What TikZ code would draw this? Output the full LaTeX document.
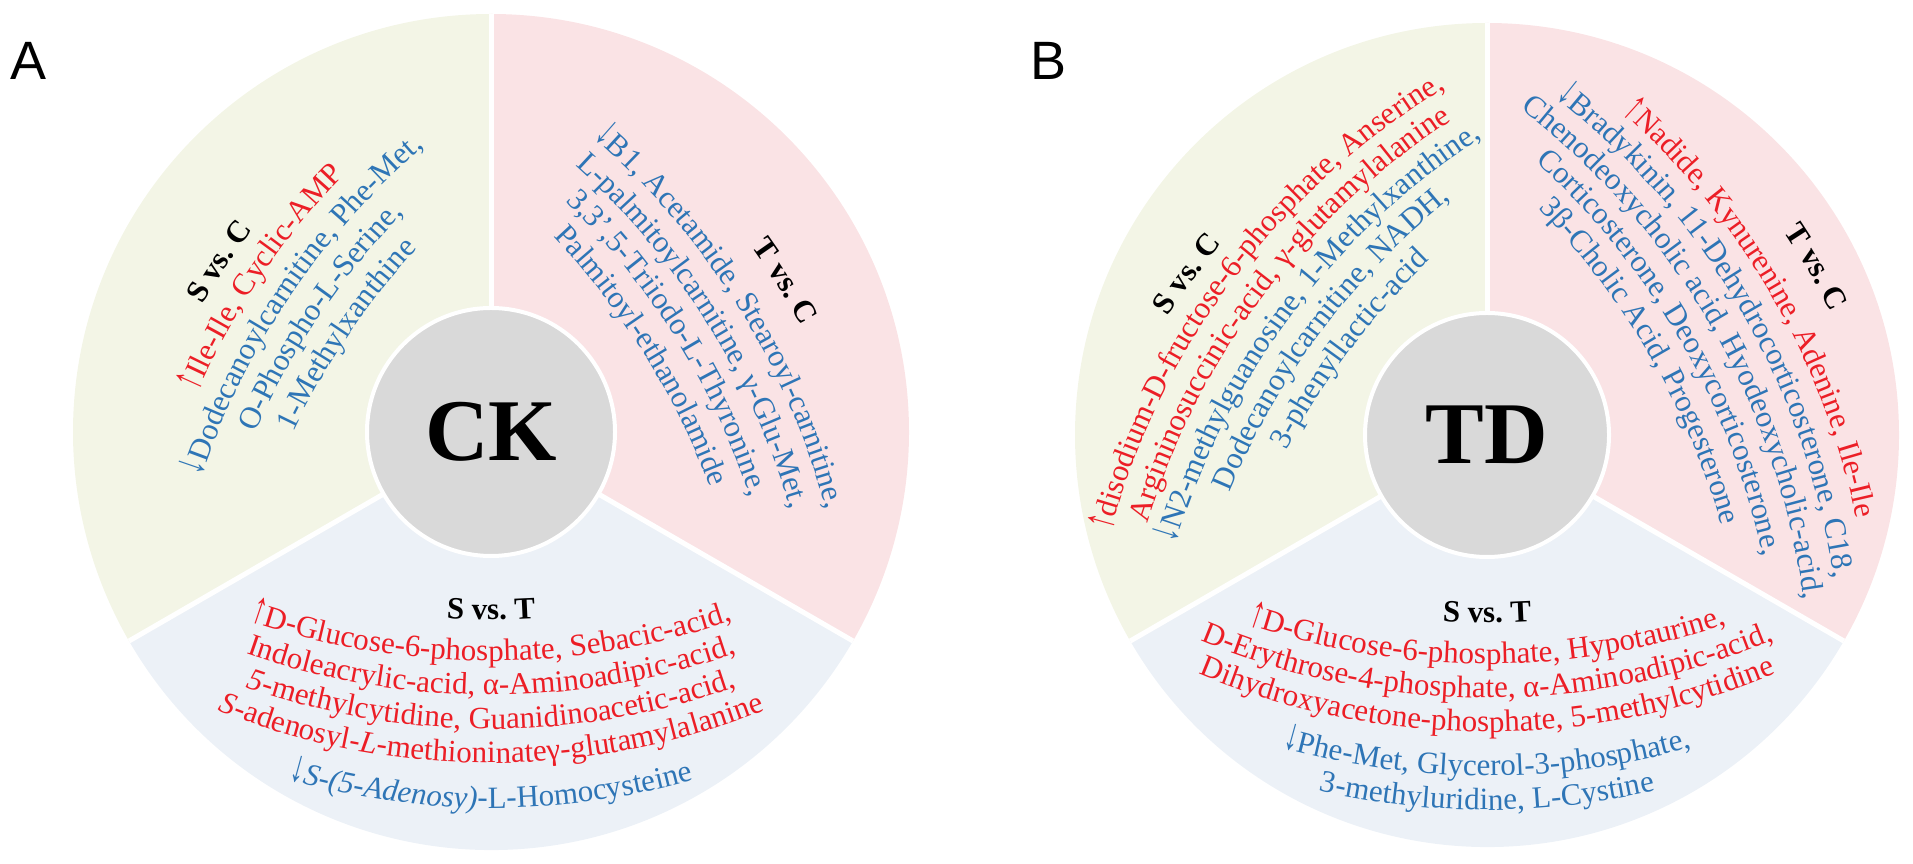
\documentclass[tikz,border=0pt]{standalone}
\usepackage{fontspec}
\setmainfont{Liberation Serif}
\newfontfamily\labfont{Liberation Sans}
\newfontfamily\arrfont[FakeStretch=0.6]{Liberation Serif}
\usetikzlibrary{calc,decorations.text}

\definecolor{secSC}{RGB}{243,245,230}
\definecolor{secTC}{RGB}{250,227,229}
\definecolor{secST}{RGB}{236,241,247}
\definecolor{hubgray}{RGB}{217,217,217}
\definecolor{upred}{RGB}{236,30,38}
\definecolor{downblue}{RGB}{46,117,182}

\newcommand\bodyfont{\fontsize{31}{37}\selectfont}
\newcommand\ttlfmt{\bodyfont\bfseries\color{black}}
\newcommand\upfmt{\bodyfont\color{upred}}
\newcommand\upfmtit{\bodyfont\itshape\color{upred}}
\newcommand\dnfmt{\bodyfont\color{downblue}}
\newcommand\dnfmtit{\bodyfont\itshape\color{downblue}}
\newcommand\uparr{\arrfont\fontsize{46}{46}\selectfont\color{upred}}
\newcommand\dnarr{\arrfont\fontsize{46}{46}\selectfont\color{downblue}}
\newcommand\arcR{740pt}
\newcommand\orient{0}
% #1 centre, #2 angle, #3 distance, #4 signed half arc, #5 format, #6 text
\newcommand\arcline[6]{%
  \pgfmathsetmacro\aS{\orient+(#4)}%
  \pgfmathsetmacro\aE{\orient-(#4)}%
  \pgfmathsetmacro\aB{\orient+180}%
  \path[decorate, decoration={text along path, text align=center,
      text={|#5|#6}}]
    ($(#1)+(#2:#3pt)+(\aB:\arcR)+(\aS:\arcR)$)
    arc[start angle=\aS, end angle=\aE, radius=\arcR];
}

\begin{document}
\begin{tikzpicture}[x=1pt, y=1pt,
  cut/.style = {white, line width=5pt},
  hub/.style = {circle, fill=hubgray, draw=white, line width=4pt, inner sep=0pt,
    font=\bfseries\fontsize{88}{88}\selectfont},
  lbl/.style = {font=\labfont\fontsize{54}{54}\selectfont},
]
\useasboundingbox (0,0) rectangle (1913,864);
\coordinate (c1) at (491,432);
\coordinate (c2) at (1487,429);

\foreach \c/\r in {c1/418, c2/412} {
  \fill[secSC] (\c) -- ++(90:\r pt) arc[start angle=90, end angle=210, radius=\r pt] -- cycle;
  \fill[secTC] (\c) -- ++(90:\r pt) arc[start angle=90, end angle=-30, radius=\r pt] -- cycle;
  \fill[secST] (\c) -- ++(210:\r pt) arc[start angle=210, end angle=330, radius=\r pt] -- cycle;
  \draw[cut] (\c) -- ++(90:\r pt);
  \draw[cut] (\c) -- ++(210:\r pt);
  \draw[cut] (\c) -- ++(330:\r pt);
}

\node[hub, minimum size=248pt] (ck) at (c1) {CK};
\node[hub, minimum size=244pt] (td) at (c2) {TD};
\node[lbl] (labA) at (29,803) {A};
\node[lbl] (labB) at (1048,803) {B};

\renewcommand\orient{146}
\arcline{c1}{148}{312}{40}{\ttlfmt}{S vs. C}
\arcline{c1}{146}{277}{40}{\uparr}{↑|\upfmt|Ile-Ile, Cyclic-AMP}
\arcline{c1}{146}{242}{40}{\dnarr}{↓|\dnfmt|Dodecanoylcarnitine, Phe-Met,}
\arcline{c1}{146}{207}{40}{\dnfmt}{O-Phospho-L-Serine,}
\arcline{c1}{146}{172}{40}{\dnfmt}{1-Methylxanthine}

\renewcommand\orient{32}
\arcline{c1}{27}{322}{40}{\ttlfmt}{T vs. C}
\arcline{c1}{27}{277}{40}{\dnarr}{↓|\dnfmt|B1, Acetamide, Stearoyl-carnitine,}
\arcline{c1}{27}{242}{40}{\dnfmt}{L-palmitoylcarnitine, γ-Glu-Met,}
\arcline{c1}{27}{207}{40}{\dnfmt}{3,3',5-Triiodo-L-Thyronine,}
\arcline{c1}{27}{172}{40}{\dnfmt}{Palmitoyl-ethanolamide}

\renewcommand\orient{270}
\arcline{c1}{270}{188}{-40}{\ttlfmt}{S vs. T}
\arcline{c1}{270}{229}{-40}{\uparr}{↑|\upfmt|D-Glucose-6-phosphate, Sebacic-acid,}
\arcline{c1}{270}{263}{-40}{\upfmt}{Indoleacrylic-acid, α-Aminoadipic-acid,}
\arcline{c1}{270}{297}{-40}{\upfmtit}{5|\upfmt|-methylcytidine, Guanidinoacetic-acid,}
\arcline{c1}{270}{331}{-40}{\upfmtit}{S|\upfmt|-adenosyl-|\upfmtit|L|\upfmt|-methioninateγ-glutamylalanine}
\arcline{c1}{270}{376}{-40}{\dnarr}{↓|\dnfmtit|S-(5-Adenosy)|\dnfmt|-L-Homocysteine}

\renewcommand\orient{143}
\arcline{c2}{152}{332}{40}{\ttlfmt}{S vs. C}
\arcline{c2}{148}{297}{40}{\uparr}{↑|\upfmt|disodium-D-fructose-6-phosphate, Anserine,}
\arcline{c2}{148}{263}{40}{\upfmt}{Argininosuccinic-acid, γ-glutamylalanine}
\arcline{c2}{148}{229}{40}{\dnarr}{↓|\dnfmt|N2-methylguanosine, 1-Methylxanthine,}
\arcline{c2}{148}{195}{40}{\dnfmt}{Dodecanoylcarnitine, NADH,}
\arcline{c2}{148}{161}{40}{\dnfmt}{3-phenyllactic-acid}

\renewcommand\orient{30}
\arcline{c2}{27}{361}{40}{\ttlfmt}{T vs. C}
\arcline{c2}{26}{317}{40}{\uparr}{↑|\upfmt|Nadide, Kynurenine, Adenine, Ile-Ile}
\arcline{c2}{26}{283}{40}{\dnarr}{↓|\dnfmt|Bradykinin, 11-Dehydrocorticosterone, C18,}
\arcline{c2}{26}{249}{40}{\dnfmt}{Chenodeoxycholic acid, Hyodeoxycholic-acid,}
\arcline{c2}{26}{215}{40}{\dnfmt}{Corticosterone, Deoxycorticosterone,}
\arcline{c2}{26}{181}{40}{\dnfmt}{3β-Cholic Acid, Progesterone}

\renewcommand\orient{270}
\arcline{c2}{270}{188}{-40}{\ttlfmt}{S vs. T}
\arcline{c2}{270}{229}{-40}{\uparr}{↑|\upfmt|D-Glucose-6-phosphate, Hypotaurine,}
\arcline{c2}{270}{263}{-40}{\upfmt}{D-Erythrose-4-phosphate, α-Aminoadipic-acid,}
\arcline{c2}{270}{297}{-40}{\upfmt}{Dihydroxyacetone-phosphate, 5-methylcytidine}
\arcline{c2}{270}{341}{-40}{\dnarr}{↓|\dnfmt|Phe-Met, Glycerol-3-phosphate,}
\arcline{c2}{270}{375}{-40}{\dnfmt}{3-methyluridine, L-Cystine}
\end{tikzpicture}
\end{document}
